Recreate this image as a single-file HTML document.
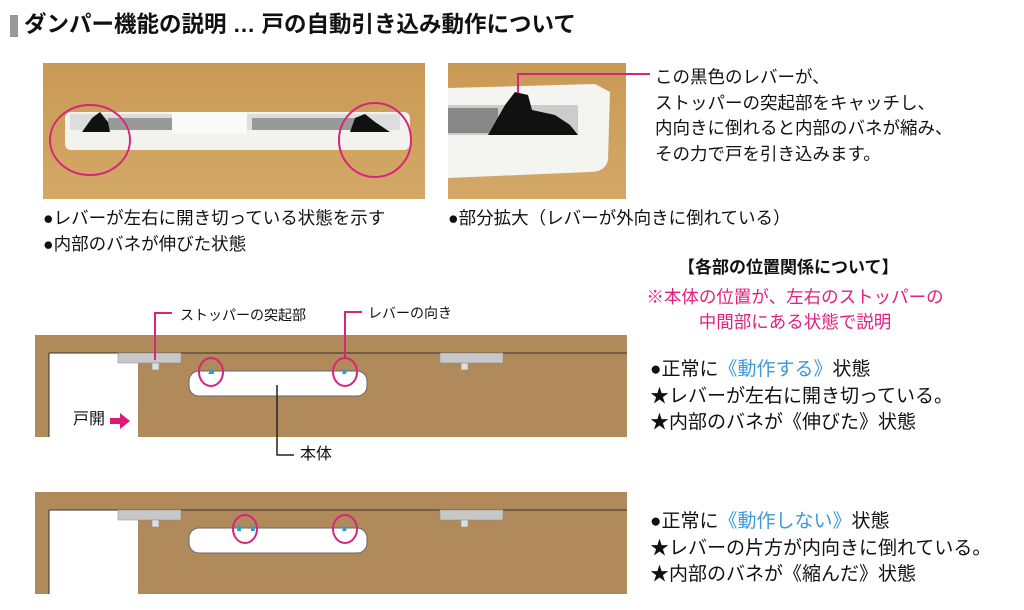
<!DOCTYPE html>
<html><head><meta charset="utf-8"><style>
body{margin:0;width:1024px;height:610px;background:#fff;overflow:hidden;position:relative;font-family:"Liberation Sans","Noto Sans CJK JP",sans-serif;color:#111}
.t{position:absolute;white-space:nowrap;font-size:17.5px;line-height:20px}
</style></head><body>
<div style="position:absolute;left:10px;top:15px;width:8px;height:22px;background:#999"></div>
<div class="t" style="left:24px;top:11px;font-size:22.5px;line-height:27px;font-weight:bold">ダンパー機能の説明 … 戸の自動引き込み動作について</div>

<svg width="1024" height="610" style="position:absolute;left:0;top:0">
<defs>
<linearGradient id="wd" x1="0" y1="0" x2="0" y2="1"><stop offset="0" stop-color="#c89a55"/><stop offset="1" stop-color="#d4a867"/></linearGradient>
</defs>
<rect x="43" y="63" width="382" height="136" fill="url(#wd)"/>
<rect x="65" y="112" width="345" height="38" rx="6" fill="#f2f2ee"/>
<rect x="70" y="114" width="330" height="16" fill="#ddd"/>
<rect x="108" y="118" width="95" height="12" fill="#999"/>
<rect x="252" y="118" width="110" height="12" fill="#999"/>
<rect x="172" y="112" width="75" height="22" fill="#fafafa"/>
<path d="M82 132 L92 118 L100 112 L108 122 L110 132Z" fill="#111"/>
<path d="M350 132 L355 118 L365 114 L375 122 L390 132Z" fill="#111"/>
<ellipse cx="90" cy="140" rx="40" ry="35" fill="none" stroke="#d6257b" stroke-width="2"/>
<ellipse cx="375" cy="140" rx="36" ry="37" fill="none" stroke="#d6257b" stroke-width="2"/>
<rect x="448" y="63" width="178" height="136" fill="url(#wd)"/>
<path d="M448 88 L595 84 L610 92 L608 160 Q605 172 590 172 L448 178Z" fill="#f4f4f0"/>
<rect x="448" y="105" width="130" height="30" fill="#ccc"/>
<rect x="448" y="108" width="50" height="25" fill="#888"/>
<path d="M488 135 L505 105 L515 92 L528 95 L532 110 L555 115 L570 125 L578 135Z" fill="#111"/>
<polyline points="518,93 518,74 650,74" fill="none" stroke="#d6257b" stroke-width="2"/>

<g>
<rect x="35" y="335" width="592" height="102" fill="#b08a5a"/>
<rect x="49" y="353" width="89" height="84" fill="#fff"/>
<line x1="49" y1="353" x2="627" y2="353" stroke="#333" stroke-width="1"/>
<line x1="49" y1="353" x2="49" y2="437" stroke="#333" stroke-width="1"/>
<rect x="118" y="353" width="63" height="10" fill="#c8c8c8" stroke="#888" stroke-width=".5"/>
<rect x="152" y="363" width="7" height="7" fill="#ddd" stroke="#888" stroke-width=".5"/>
<rect x="440" y="353" width="63" height="10" fill="#c8c8c8" stroke="#888" stroke-width=".5"/>
<rect x="461" y="363" width="7" height="7" fill="#ddd" stroke="#888" stroke-width=".5"/>
<rect x="189" y="371" width="178" height="25" rx="10" fill="#fff" stroke="#666" stroke-width="1"/>
<path d="M208 374 l3 -5 3 1 0 4z" fill="#2a9fd6"/>
<path d="M342 374 l2 -5 3 1 -1 4z" fill="#2a9fd6"/>
<ellipse cx="211" cy="372" rx="12" ry="14" fill="none" stroke="#d6257b" stroke-width="2"/>
<ellipse cx="345" cy="372" rx="12" ry="14" fill="none" stroke="#d6257b" stroke-width="2"/>
<polyline points="172,313 155,313 155,360" fill="none" stroke="#d6257b" stroke-width="2"/>
<polyline points="362,312 345,312 345,358" fill="none" stroke="#d6257b" stroke-width="2"/>
<polyline points="277,385 277,455 294,455" fill="none" stroke="#222" stroke-width="1.5"/>
<path d="M110 418 h10 v-5 l10 8 -10 8 v-5 h-10z" fill="#e0177b"/>
</g>
<g>
<rect x="35" y="492" width="592" height="102" fill="#b08a5a"/>
<rect x="49" y="510" width="89" height="84" fill="#fff"/>
<line x1="49" y1="510" x2="627" y2="510" stroke="#333" stroke-width="1"/>
<line x1="49" y1="510" x2="49" y2="594" stroke="#333" stroke-width="1"/>
<rect x="118" y="510" width="63" height="10" fill="#c8c8c8" stroke="#888" stroke-width=".5"/>
<rect x="152" y="520" width="7" height="7" fill="#ddd" stroke="#888" stroke-width=".5"/>
<rect x="440" y="510" width="63" height="10" fill="#c8c8c8" stroke="#888" stroke-width=".5"/>
<rect x="461" y="520" width="7" height="7" fill="#ddd" stroke="#888" stroke-width=".5"/>
<rect x="189" y="528" width="178" height="25" rx="10" fill="#fff" stroke="#666" stroke-width="1"/>
<path d="M237 531 l1 -6 3 0 0 6z" fill="#2a9fd6"/>
<path d="M251 531 l0 -6 3 1 1 5z" fill="#2a9fd6"/>
<path d="M342 531 l2 -5 3 1 -1 4z" fill="#2a9fd6"/>
<ellipse cx="245" cy="529" rx="12" ry="14" fill="none" stroke="#d6257b" stroke-width="2"/>
<ellipse cx="345" cy="529" rx="12" ry="14" fill="none" stroke="#d6257b" stroke-width="2"/>
</g>
</svg>

<div class="t" style="left:43px;top:208px">●レバーが左右に開き切っている状態を示す</div>
<div class="t" style="left:43px;top:234px">●内部のバネが伸びた状態</div>
<div class="t" style="left:448px;top:208px">●部分拡大（レバーが外向きに倒れている）</div>
<div class="t" style="left:655px;top:65px;line-height:25.7px">この黒色のレバーが、<br>ストッパーの突起部をキャッチし、<br>内向きに倒れると内部のバネが縮み、<br>その力で戸を引き込みます。</div>
<div class="t" style="left:180px;top:305px;font-size:14px">ストッパーの突起部</div>
<div class="t" style="left:368px;top:303px;font-size:14px">レバーの向き</div>
<div class="t" style="left:300px;top:445px;font-size:16px">本体</div>
<div class="t" style="left:73px;top:410px;font-size:16px">戸開</div>
<div class="t" style="left:678px;top:258px;font-weight:bold;font-size:17px">【各部の位置関係について】</div>
<div class="t" style="left:640px;top:285px;width:310px;text-align:center;color:#e0207f;line-height:25px">※本体の位置が、左右のストッパーの<br>中間部にある状態で説明</div>
<div class="t" style="left:650px;top:357px;line-height:26.5px;font-size:19px">●正常に<span style="color:#3b9ad9">《動作する》</span>状態<br>★レバーが左右に開き切っている。<br>★内部のバネが《伸びた》状態</div>
<div class="t" style="left:650px;top:509px;line-height:26.5px;font-size:19px">●正常に<span style="color:#3b9ad9">《動作しない》</span>状態<br>★レバーの片方が内向きに倒れている。<br>★内部のバネが《縮んだ》状態</div>
</body></html>
